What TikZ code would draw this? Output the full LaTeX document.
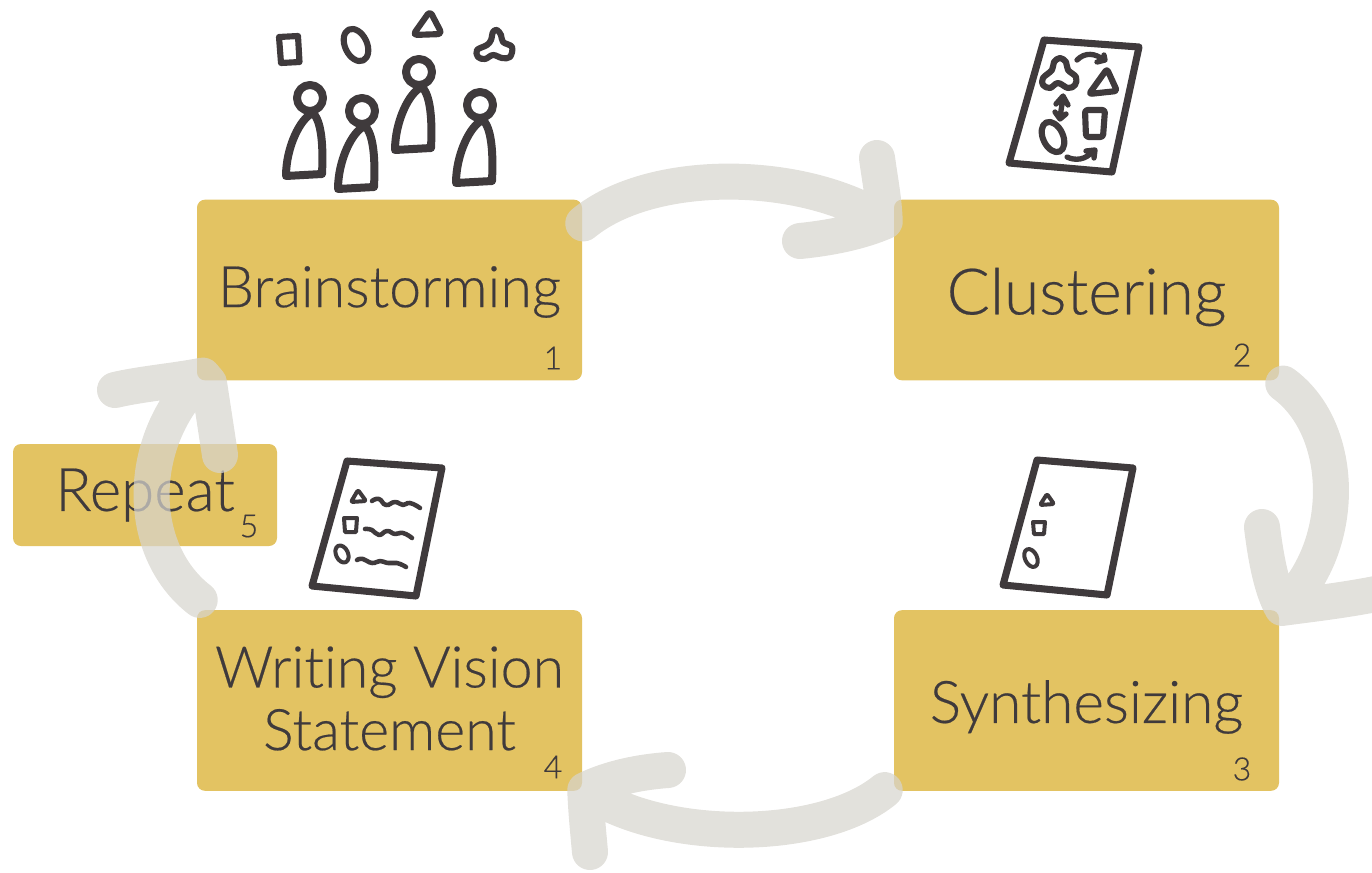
\documentclass[tikz,border=0pt]{standalone}
\usepackage{fontspec}
\setmainfont{Lato}[UprightFont=* Light,Ligatures=NoCommon,FakeBold=0.35]
\definecolor{gold}{RGB}{227,195,98}
\definecolor{ink}{RGB}{63,58,60}
\definecolor{flowc}{RGB}{215,213,206}
\tikzset{
  stagebox/.style={fill=gold,rounded corners=6pt,inner sep=0pt,minimum width=288.75pt,minimum height=135.5pt},
  repeatbox/.style={stagebox,minimum width=198pt,minimum height=76.5pt},
  stagetext/.style={inner sep=0pt,text=ink,align=center,font=\fontsize{43}{47}\selectfont},
  numlabel/.style={text=ink,inner sep=0pt,font=\fontsize{24}{26}\selectfont},
  flow/.style={draw=flowc,draw opacity=.72,line width=27pt,line cap=round,line join=round},
  person/.style={draw=ink,line width=6pt,line cap=round,line join=round},
  sketch/.style={draw=ink,line width=4.6pt,line cap=round,line join=round},
  sheet/.style={draw=ink,line width=5.3pt,line cap=round,line join=round},
  sketchmid/.style={draw=ink,line width=4pt,line cap=round,line join=round},
  sketchthin/.style={draw=ink,line width=3pt,line cap=round,line join=round},
  squiggle/.style={draw=ink,line width=3.4pt,line cap=round,line join=round},
}
\begin{document}
\begin{tikzpicture}[x=0.75pt,y=-0.75pt]
\useasboundingbox (0,0) rectangle (1372,872);
% boxes
\node[stagebox] (b1) at (389.5,290) {};
\node[stagebox] (b2) at (1086.5,290) {};
\node[stagebox] (b3) at (1086.5,700.5) {};
\node[stagebox] (b4) at (389.5,700.5) {};
\node[repeatbox] (b5) at (145,495) {};
\node[stagetext] (l1) at (389.5,292) {Brainstorming};
\node[stagetext,font=\fontsize{48}{52}\selectfont] (l2) at (1086.5,297) {Clustering};
\node[stagetext,font=\fontsize{44}{47}\selectfont] (l3) at (1086.5,707) {Synthesizing};
\node[stagetext] (l4) at (389.5,698.5) {Writing Vision\\Statement};
\node[stagetext,font=\fontsize{45}{47}\selectfont] (l5) at (145,495) {Repeat};
\node[numlabel] (n1) at (553,358) {1};
\node[numlabel] (n2) at (1242,355) {2};
\node[numlabel] (n3) at (1242,769) {3};
\node[numlabel] (n4) at (553,767) {4};
\node[numlabel] (n5) at (249,526) {5};
% people
\foreach \hx/\hy in {310/98,362/111,419/72,480/105}{
  \draw[person] (\hx,\hy) circle[radius=13];
  \draw[person,shift={(\hx,\hy)}] (-24,78) -- (12,76) .. controls (13,55) and (13,25) .. (3,15) .. controls (-10,20) and (-24,50) .. cycle;
}
\draw[sketch] (279,37) -- (298,36) -- (299.5,62) -- (281,63) -- cycle;
\draw[sketch,rotate around={25:(356,45)}] (356,45) ellipse[x radius=11,y radius=17];
\draw[sketch,rounded corners=3pt] (430,11) -- (442,34) -- (413,35) -- cycle;
\draw[sketch] plot[smooth cycle,tension=.6] coordinates {(497,30)(501,35)(503,42)(512,47)(510,57)(502,58)(493,55)(485,59)(478,57)(477,50)(487,45)(491,40)(493,32)};
% document: clustering
\draw[sheet] (1044,40) -- (1139,47) -- (1112,172) -- (1009,163) -- cycle;
\draw[sketch] plot[smooth cycle,tension=.6] coordinates {(1060,58)(1066,62)(1068,70)(1076,77)(1075,85)(1068,88)(1058,83)(1050,88)(1043,85)(1043,78)(1052,70)(1054,62)};
\draw[sketch,rounded corners=2pt] (1107,69) -- (1117,91) -- (1089,94) -- cycle;
\draw[sketch,rounded corners=2pt] (1085,110) -- (1105,110) -- (1103,137) -- (1086,137) -- cycle;
\draw[sketch,rotate around={25:(1053,137)}] (1053,137) ellipse[x radius=10,y radius=16];
\draw[sketchmid] (1063,98) -- (1060,117) (1056,104) -- (1063,96) -- (1068,105) (1055,112) -- (1060,119) -- (1066,114);
\draw[sketchmid] (1077,60) .. controls (1085,52) and (1095,53) .. (1104,60) (1097,62) -- (1105,60) -- (1104,55);
\draw[sketchmid] (1067,157) .. controls (1075,161) and (1086,160) .. (1093,151) (1086,151) -- (1095,150) -- (1094,158);
% document: synthesizing
\draw[sheet] (1037,460) -- (1133,468) -- (1107,595) -- (1003,585) -- cycle;
\draw[sketchthin,rounded corners=1pt] (1047,494) -- (1054,504) -- (1040,505) -- cycle;
\draw[sketchthin] (1033,522) -- (1045,522) -- (1044,534) -- (1034,534) -- cycle;
\draw[sketchthin,rotate around={25:(1031,558)}] (1031,558) ellipse[x radius=6,y radius=9.5];
% document: vision statement
\draw[sheet] (347,461) -- (442,468) -- (416,596) -- (312,586) -- cycle;
\draw[sketchthin,rounded corners=1pt] (358,490) -- (366,501) -- (351,502) -- cycle;
\draw[sketchthin] (344,518) -- (357,518) -- (356,532) -- (345,532) -- cycle;
\draw[sketchthin,rotate around={25:(342,554)}] (342,554) ellipse[x radius=6,y radius=9];
\draw[squiggle] plot[smooth,tension=.9] coordinates {(372,501)(379,499)(386,505)(395,502)(403,505)(410,503)(420,508)};
\draw[squiggle] plot[smooth,tension=.9] coordinates {(365,529)(372,530)(379,535)(387,531)(395,534)(403,533)(412,538)};
\draw[squiggle] plot[smooth,tension=.9] coordinates {(357,560)(363,559)(372,563)(380,561)(388,563)(397,563)(406,567)};
% flow arrows
\coordinate (t1) at ([shift={(-9,22)}]b2.north west);
\coordinate (t2) at ([shift={(3,-2)}]b3.north east);
\coordinate (t3) at ([shift={(3,-1)}]b4.south east);
\coordinate (t4) at ([shift={(6,-5)}]b1.south west);
\coordinate (e1a) at (877,158); \coordinate (e1b) at (800,241);
\coordinate (e2a) at (1262,527); \coordinate (e2b) at (1395,590);
\coordinate (e3a) at (668,770); \coordinate (e3b) at (590,852);
\coordinate (e4a) at (115,390); \coordinate (e4b) at (220,455);
\draw[flow] ([shift={(1,24)}]b1.north east) .. controls (650,168) and (800,168) .. (t1)
  (e1a) .. controls (880,180) and (884,200) .. (t1) .. controls (860,232) and (830,238) .. (e1b);
\draw[flow] ([shift={(4,3)}]b2.south east) .. controls (1347,430) and (1347,550) .. (t2)
  (e2a) .. controls (1266,560) and (1272,590) .. (t2) .. controls (1310,604) and (1350,600) .. (e2b);
\draw[flow] ([shift={(-9,-1)}]b3.south west) .. controls (820,843) and (660,843) .. (t3)
  (e3a) .. controls (640,772) and (610,778) .. (t3) .. controls (586,810) and (588,830) .. (e3b);
\draw[flow] ([shift={(3,-10)}]b4.north west) .. controls (135,550) and (135,440) .. (t4)
  (e4a) .. controls (140,384) and (175,381) .. (t4) -- (209,383) -- (e4b);
\end{tikzpicture}
\end{document}
